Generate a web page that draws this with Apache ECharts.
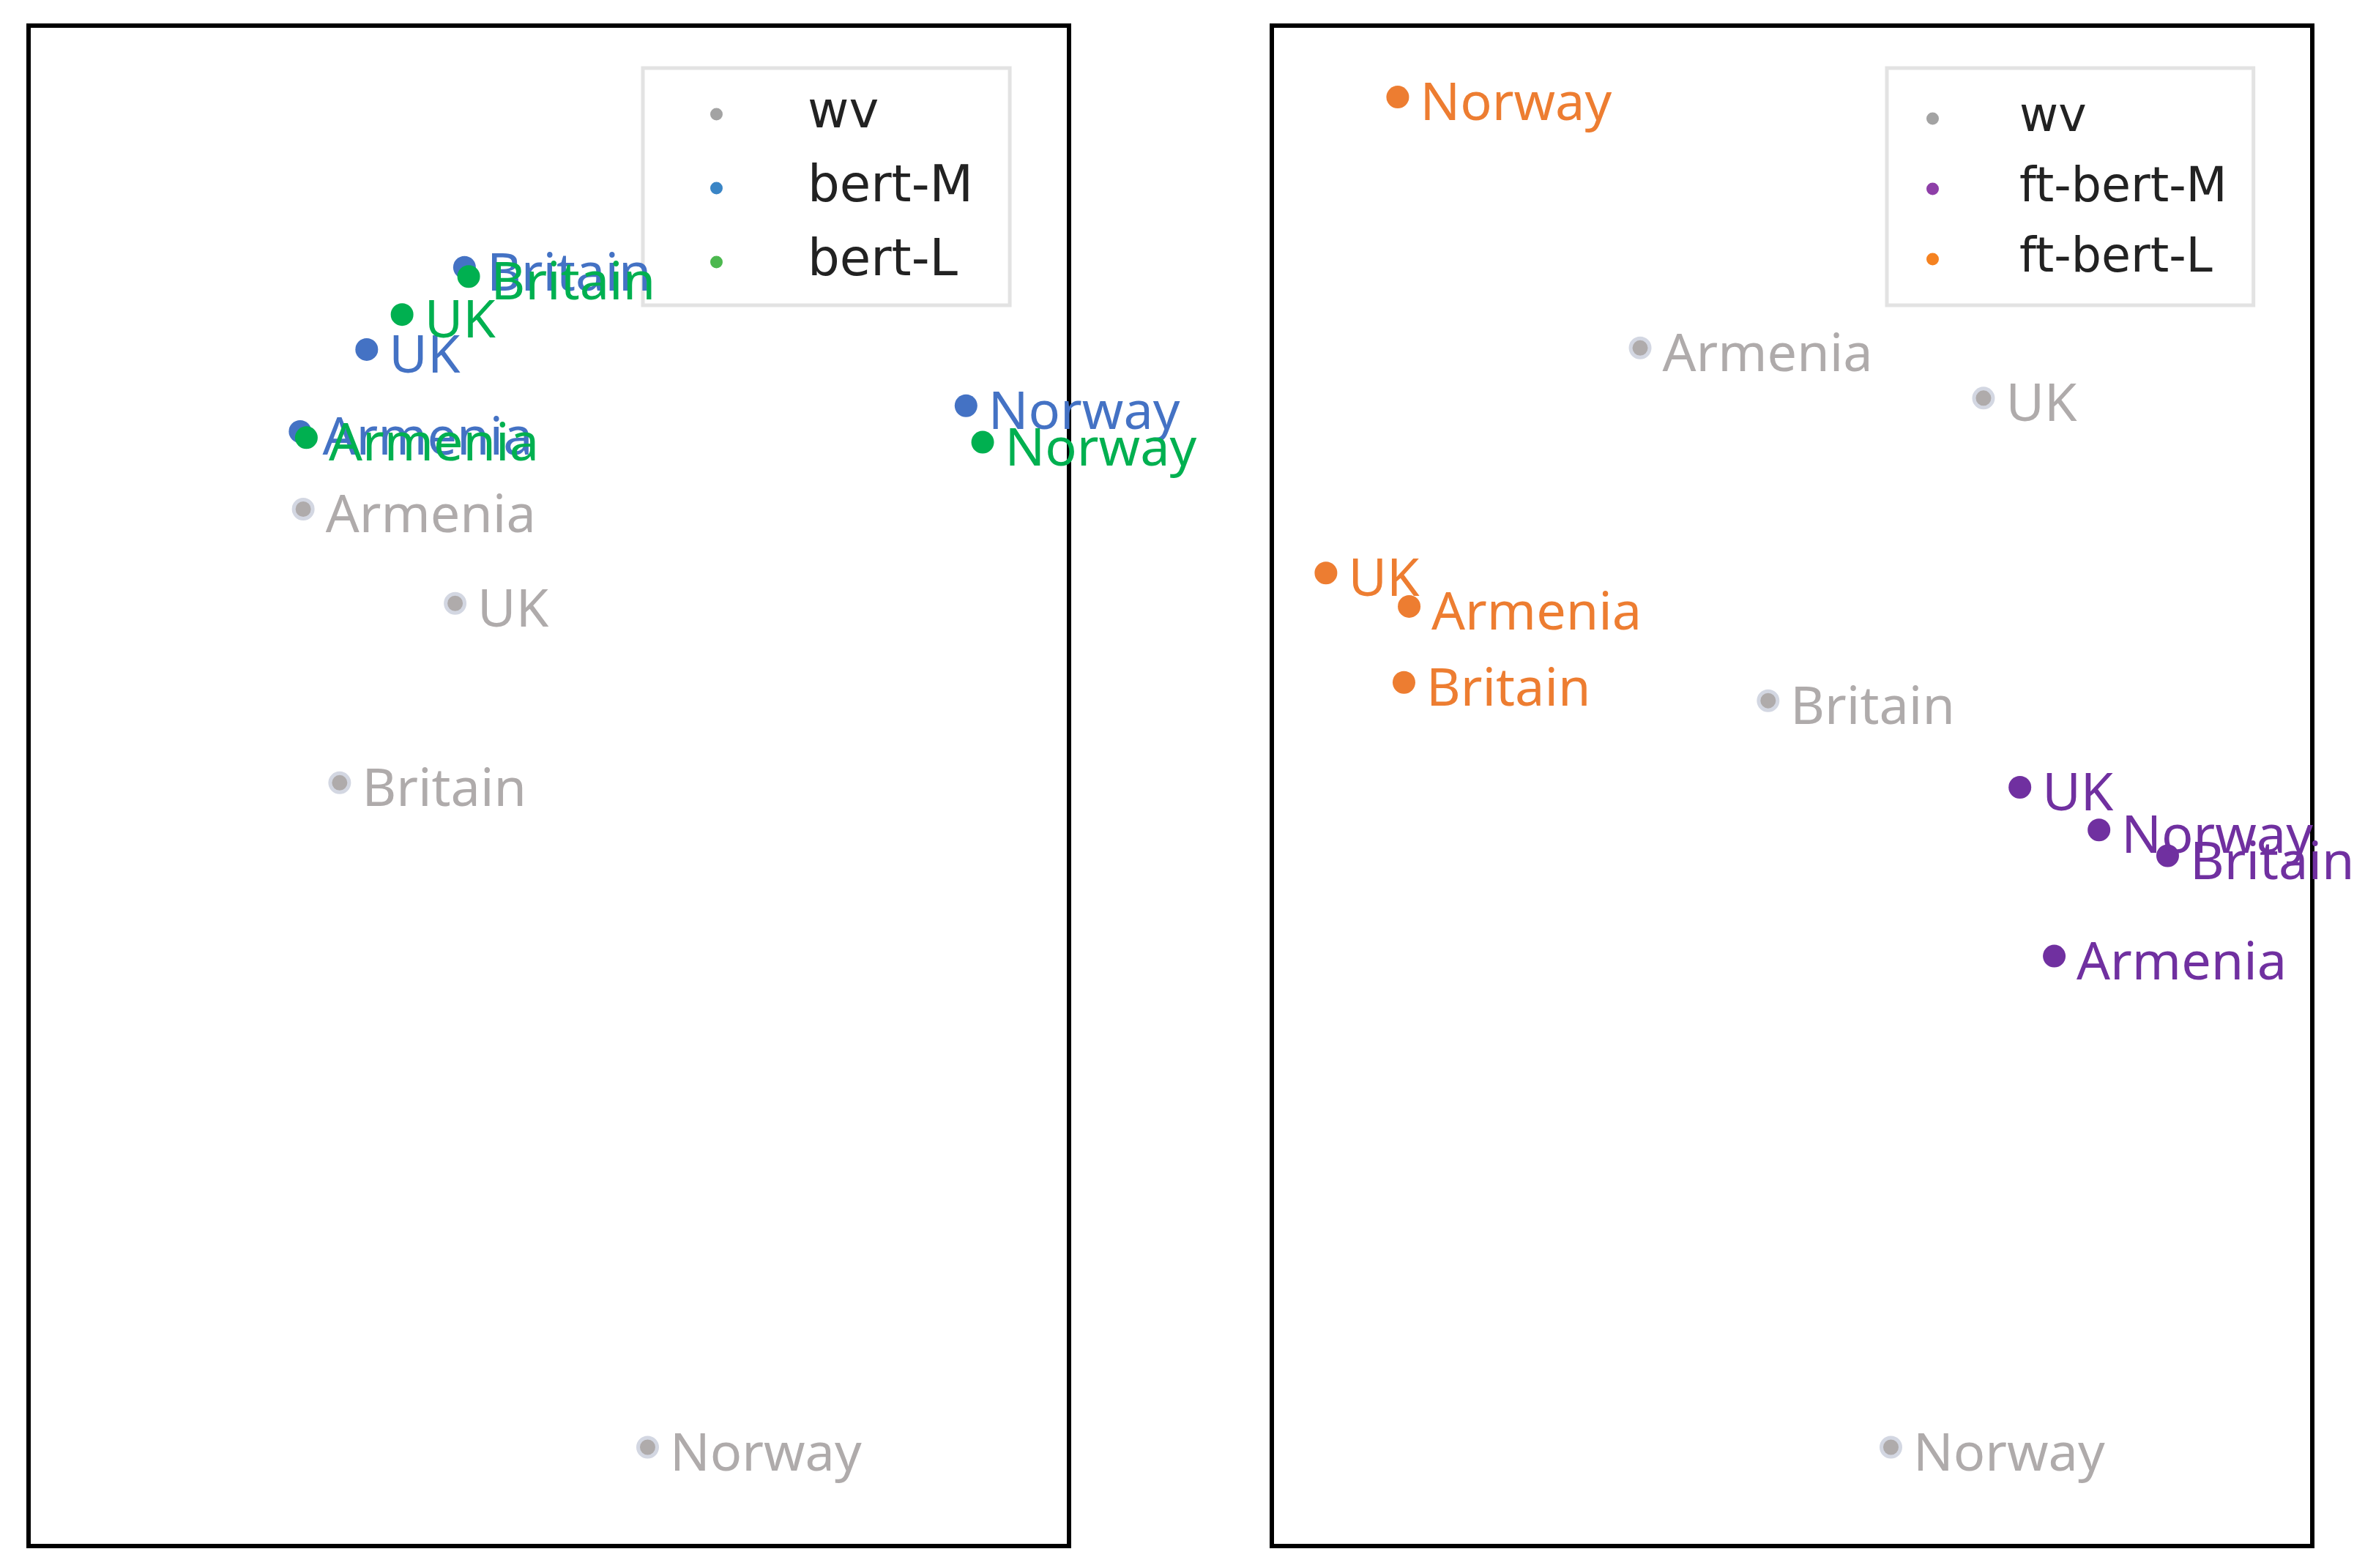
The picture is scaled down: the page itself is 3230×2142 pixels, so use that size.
<!DOCTYPE html>
<html>
<head>
<meta charset="utf-8">
<style>
  html, body { margin: 0; padding: 0; background: #fff; }
  #chart { width: 3230px; height: 2142px; }
</style>
<script src="https://cdn.jsdelivr.net/npm/echarts@6/dist/echarts.min.js"></script>
</head>
<body>
<div id="chart"></div>
<script>
// word order shared by every series
const words = ['Armenia', 'UK', 'Britain', 'Norway'];

// left panel, [x, y] in percent of the panel
const wvLeft = [[26.4, 68.2], [41.0, 62.0], [29.9, 50.2], [59.5, 6.5]];
const bertM = [[26.1, 73.3], [32.5, 78.7], [41.9, 84.1], [90.1, 75.0]];
const bertL = [[26.7, 72.9], [35.9, 81.0], [42.3, 83.5], [91.7, 72.6]];

// right panel
const wvRight = [[35.4, 78.8], [68.4, 75.5], [47.7, 55.6], [59.5, 6.5]];
const ftBertM = [[75.2, 38.8], [71.9, 49.9], [86.1, 45.4], [79.5, 47.1]];
const ftBertL = [[13.2, 61.8], [5.2, 64.0], [12.7, 56.8], [12.1, 95.3]];

const chart = echarts.init(document.getElementById('chart'));

function points(values) {
    return values.map((v, i) => ({ name: words[i], value: v }));
}

// one scatter series with the word printed next to each dot
function scatter(name, values, panel, color, ring) {
    return {
        name: name,
        type: 'scatter',
        xAxisIndex: panel,
        yAxisIndex: panel,
        data: points(values),
        clip: false,
        symbolSize: ring ? 26 : 31,
        itemStyle: ring
            ? { color: color, borderColor: '#d3d7e2', borderWidth: 5, opacity: 1 }
            : { color: color, opacity: 1 },
        label: {
            show: true,
            position: 'right',
            distance: 15,
            offset: [0, 11],
            formatter: '{b}',
            color: color,
            fontFamily: 'Noto Sans',
            fontSize: 72
        },
        emphasis: { disabled: true }
    };
}

function legendItem(name, color) {
    return { name: name, itemStyle: { color: color, borderWidth: 0, opacity: 1 } };
}

function legend(left, top, padding, names, colors, fontSize, gap, textPad) {
    return {
        orient: 'vertical',
        left: left,
        top: top,
        z: 1,
        padding: padding,
        icon: 'circle',
        align: 'left',
        itemWidth: 17,
        itemHeight: 17,
        itemGap: gap,
        borderColor: '#e3e3e3',
        borderWidth: 5,
        selectedMode: false,
        textStyle: {
            fontFamily: 'DejaVu Sans',
            fontSize: fontSize,
            lineHeight: 70,
            color: '#222',
            padding: [0, 0, 0, textPad]
        },
        data: names.map((n, i) => legendItem(n, colors[i]))
    };
}

function axis(gridIndex) {
    return { type: 'value', gridIndex: gridIndex, min: 0, max: 100, show: false };
}

chart.setOption({
    backgroundColor: '#fff',
    animation: false,
    grid: [
        { left: 39, top: 35, width: 1421, height: 2077, show: true, borderColor: '#000', borderWidth: 6 },
        { left: 1737, top: 35, width: 1421, height: 2077, show: true, borderColor: '#000', borderWidth: 6 }
    ],
    xAxis: [axis(0), axis(1)],
    yAxis: [axis(0), axis(1)],
    legend: [
        legend(878, 93, [28, 50, 24, 92], ['wv', 'bert-M', 'bert-L'], ['#a3a3a3', '#3a85c6', '#4cb84f'], 69, 31, 111),
        legend(2577, 93, [34, 36, 28, 54], ['wv', 'ft-bert-M', 'ft-bert-L'], ['#a3a3a3', '#8e3fa8', '#f58220'], 65, 26, 105)
    ],
    series: [
        scatter('wv', wvLeft, 0, '#afabab', true),
        scatter('bert-M', bertM, 0, '#4472c4'),
        scatter('bert-L', bertL, 0, '#00b050'),
        scatter('wv', wvRight, 1, '#afabab', true),
        scatter('ft-bert-M', ftBertM, 1, '#7030a0'),
        scatter('ft-bert-L', ftBertL, 1, '#ed7d31')
    ]
});
</script>
</body>
</html>
